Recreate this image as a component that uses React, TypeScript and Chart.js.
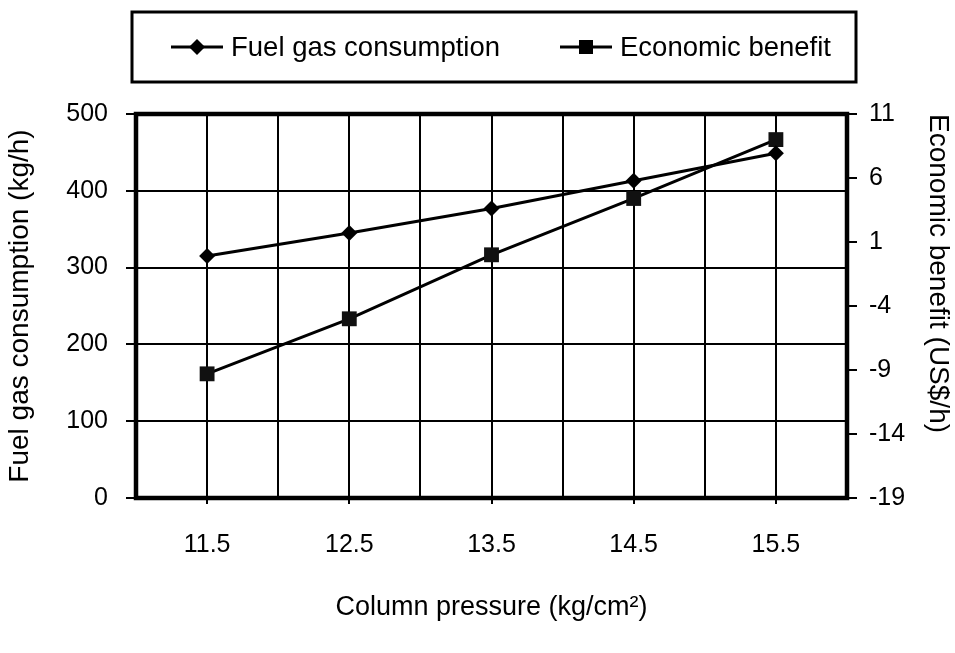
import React, { useEffect, useRef } from 'react';
import { Chart, registerables } from 'chart.js';

Chart.register(...registerables);

// ---- data ----
const pressures = [11.5, 12.5, 13.5, 14.5, 15.5];
const fuelGas = [315, 345, 377, 413, 449];
const econBenefit = [-9.3, -5.0, 0.0, 4.4, 9.0];
const seriesNames = ['Fuel gas consumption', 'Economic benefit'];
const xTitle = 'Column pressure (kg/cm\u00B2)';
const yLeftTitle = 'Fuel gas consumption (kg/h)';
const yRightTitle = 'Economic benefit (US$/h)';

const FONT = 'Arial, "Liberation Sans", Helvetica, sans-serif';

const frameAndLegend = {
  id: 'frameAndLegend',
  afterDraw(chart: any) {
    const { ctx, chartArea } = chart;
    ctx.save();
    // plot frame
    ctx.strokeStyle = '#000';
    ctx.lineWidth = 4.5;
    ctx.strokeRect(chartArea.left, chartArea.top, chartArea.right - chartArea.left, chartArea.bottom - chartArea.top);

    // legend box
    const bl = chartArea.left - 4;
    const br = chartArea.right + 9;
    const bt = 12;
    const bb = 82;
    ctx.lineWidth = 3;
    ctx.strokeRect(bl, bt, br - bl, bb - bt);
    const cy = (bt + bb) / 2;
    const items = [
      { x: chartArea.left + 35, shape: 'diamond', label: seriesNames[0] },
      { x: chartArea.left + 424, shape: 'square', label: seriesNames[1] },
    ];
    ctx.font = '27.5px ' + FONT;
    ctx.textBaseline = 'middle';
    ctx.textAlign = 'left';
    ctx.fillStyle = '#000';
    for (const it of items) {
      ctx.lineWidth = 3;
      ctx.beginPath();
      ctx.moveTo(it.x, cy);
      ctx.lineTo(it.x + 52, cy);
      ctx.stroke();
      const mx = it.x + 26;
      ctx.beginPath();
      if (it.shape === 'diamond') {
        ctx.moveTo(mx - 8, cy);
        ctx.lineTo(mx, cy - 8);
        ctx.lineTo(mx + 8, cy);
        ctx.lineTo(mx, cy + 8);
        ctx.closePath();
      } else {
        ctx.rect(mx - 7, cy - 7, 14, 14);
      }
      ctx.fill();
      ctx.fillText(it.label, it.x + 60, cy + 1);
    }
    ctx.restore();
  },
};

export default function App() {
  const ref = useRef<HTMLCanvasElement>(null);
  useEffect(() => {
    document.body.style.margin = '0';
    const chart = new Chart(ref.current as HTMLCanvasElement, {
      type: 'line',
      data: {
        datasets: [
          {
            label: seriesNames[0],
            data: pressures.map((p, i) => ({ x: p, y: fuelGas[i] })),
            yAxisID: 'y',
            borderColor: '#000',
            backgroundColor: '#000',
            borderWidth: 3,
            pointStyle: 'rectRot',
            pointRadius: 8,
            pointBorderWidth: 0,
            tension: 0,
          },
          {
            label: seriesNames[1],
            data: pressures.map((p, i) => ({ x: p, y: econBenefit[i] })),
            yAxisID: 'y1',
            borderColor: '#000',
            backgroundColor: '#111',
            borderWidth: 3,
            pointStyle: 'rect',
            pointRadius: 10.5,
            pointBorderWidth: 0,
            tension: 0,
          },
        ],
      },
      options: {
        animation: false,
        responsive: true,
        maintainAspectRatio: false,
        layout: { padding: { top: 114, left: 0, right: 0, bottom: 0 } },
        plugins: {
          legend: { display: false },
          tooltip: { enabled: false },
        },
        scales: {
          x: {
            type: 'linear',
            min: 11,
            max: 16,
            afterFit: (s: any) => { s.height = 155; },
            border: { display: false },
            grid: {
              color: '#000',
              lineWidth: 2,
              tickLength: 6,
              tickColor: (c: any) => (c.tick && pressures.includes(c.tick.value) ? '#000' : 'rgba(0,0,0,0)'),
            },
            ticks: {
              stepSize: 0.5,
              autoSkip: false,
              maxRotation: 0,
              padding: 26,
              color: '#000',
              font: { size: 25, family: FONT },
              callback: (v: any) => (pressures.includes(Number(v)) ? Number(v).toFixed(1) : ''),
            },
            title: {
              display: true,
              text: xTitle,
              color: '#000',
              font: { size: 27, family: FONT },
              padding: { top: 0, bottom: 29 },
            },
          },
          y: {
            position: 'left',
            min: 0,
            max: 500,
            afterFit: (s: any) => { s.width = 136; },
            border: { display: false },
            grid: { color: '#000', lineWidth: 2, tickLength: 10 },
            ticks: {
              stepSize: 100,
              padding: 18,
              color: '#000',
              font: { size: 25, family: FONT },
            },
            title: {
              display: true,
              text: yLeftTitle,
              color: '#000',
              font: { size: 28, family: FONT },
              padding: { top: 3, bottom: 0 },
            },
          },
          y1: {
            position: 'right',
            min: -19,
            max: 11,
            afterFit: (s: any) => { s.width = 108; },
            border: { display: false },
            grid: { drawOnChartArea: false, color: '#000', lineWidth: 2, tickLength: 10 },
            ticks: {
              stepSize: 5,
              padding: 12,
              color: '#000',
              font: { size: 25, family: FONT },
            },
            title: {
              display: true,
              text: yRightTitle,
              align: 'end',
              color: '#000',
              font: { size: 28, family: FONT },
              padding: { top: 0, bottom: 0 },
            },
          },
        },
      },
      plugins: [frameAndLegend],
    } as any);
    return () => chart.destroy();
  }, []);
  return (
    <div style={{ width: 955, height: 653, position: 'relative', background: '#fff' }}>
      <canvas ref={ref} />
    </div>
  );
}
